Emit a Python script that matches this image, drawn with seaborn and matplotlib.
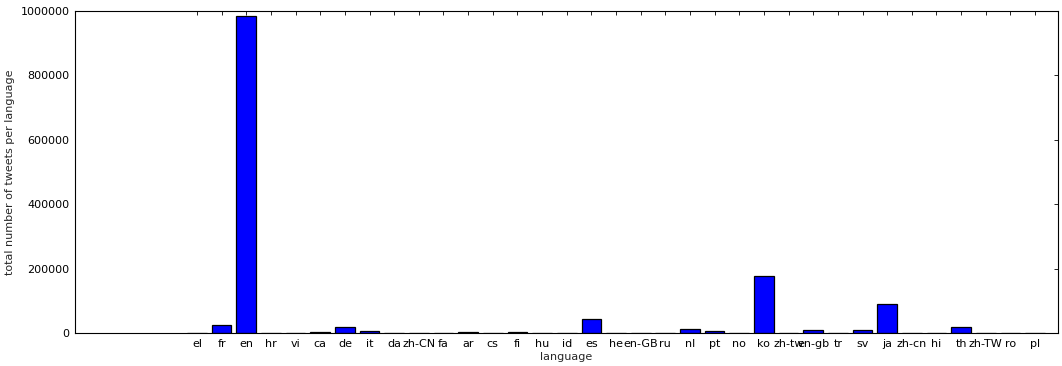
import matplotlib
matplotlib.use("Agg")
import matplotlib.pyplot as plt
import seaborn as sns
import pandas as pd
from matplotlib.ticker import FixedLocator, StrMethodFormatter

languages = ["el", "fr", "en", "hr", "vi", "ca", "de", "it", "da", "zh-CN", "fa", "ar",
             "cs", "fi", "hu", "id", "es", "he", "en-GB", "ru", "nl", "pt", "no", "ko",
             "zh-tw", "en-gb", "tr", "sv", "ja", "zh-cn", "hi", "th", "zh-TW", "ro", "pl"]
counts = [400, 24000, 985000, 300, 300, 2500, 18000, 5500, 1500, 200, 200, 2000,
          200, 2000, 300, 1500, 42500, 300, 1500, 1500, 11500, 5500, 300, 177000,
          300, 9500, 1500, 9500, 91000, 1500, 300, 20000, 300, 300, 1500]

df = pd.DataFrame({"language": languages, "count": counts})

sns.set_style("white")
plt.rcParams["font.family"] = ["DejaVu Sans"]
plt.rcParams["font.size"] = 8

fig = plt.figure(figsize=(10.62, 3.66), dpi=100)
ax = fig.add_axes([0.0706, 0.0902, 0.9256, 0.8798])

sns.barplot(data=df, x="language", y="count", color="#0000ff", saturation=1,
            edgecolor="black", linewidth=0.9, width=0.8, ax=ax)

ax.set_xlim(-4.95, 34.93)
ax.set_ylim(0, 1000000)
ax.yaxis.set_major_locator(FixedLocator([0, 200000, 400000, 600000, 800000, 1000000]))
ax.yaxis.set_major_formatter(StrMethodFormatter("{x:.0f}"))
ax.set_xlabel("language", fontsize=8, labelpad=2.5)
ax.set_ylabel("total number of tweets per language", fontsize=8, labelpad=4)
ax.tick_params(direction="in", length=3, width=0.6, top=True, right=True,
               labelsize=8, colors="black", pad=4)
for s in ax.spines.values():
    s.set_color("black")
    s.set_linewidth(0.8)

fig.savefig("out.png", dpi=100)
